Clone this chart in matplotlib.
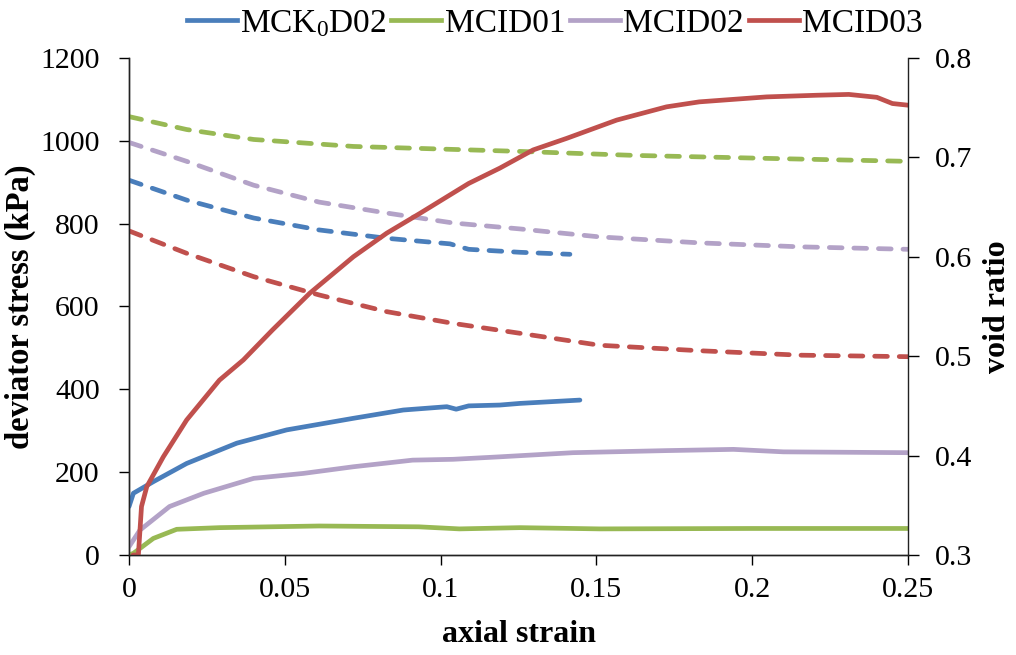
import matplotlib
matplotlib.use("Agg")
import matplotlib.pyplot as plt
from matplotlib.lines import Line2D

plt.rcParams['font.family'] = ['Liberation Serif', 'DejaVu Serif']
plt.rcParams['mathtext.fontset'] = 'custom'
plt.rcParams['mathtext.rm'] = 'Liberation Serif'
plt.rcParams['mathtext.it'] = 'Liberation Serif'

# ---------------- data ----------------
series_names = ["MCK$_0$D02", "MCID01", "MCID02", "MCID03"]
colors = ["#4A7EBB", "#98B954", "#B3A2C7", "#C0504D"]

# deviator stress (kPa) vs axial strain
k0_x = [0, 0.0014, 0.0078, 0.0185, 0.0346, 0.0506, 0.072, 0.088, 0.102, 0.105, 0.109, 0.119, 0.1255, 0.1447]
k0_q = [117, 149, 177, 221, 270, 302, 330, 350, 358, 352, 360, 362, 366, 374]

id01_x = [0.0, 0.0014, 0.0078, 0.0153, 0.029, 0.061, 0.093, 0.106, 0.1255, 0.151, 0.2, 0.25]
id01_q = [0, 4, 40, 62, 66, 70, 68, 63, 66, 63, 64, 64]

id02_x = [0, 0.0035, 0.013, 0.024, 0.04, 0.056, 0.072, 0.091, 0.104, 0.119, 0.1425, 0.1725, 0.194, 0.21, 0.25]
id02_q = [20, 60, 117, 149, 185, 197, 213, 229, 231, 237, 247, 252, 255, 249, 247]

id03_x = [0.0013, 0.003, 0.004, 0.0057, 0.011, 0.0185, 0.029, 0.0367, 0.046, 0.058, 0.072, 0.0827,
          0.0934, 0.109, 0.119, 0.1297, 0.1405, 0.1565, 0.1725, 0.183, 0.2046, 0.2207, 0.231,
          0.24, 0.245, 0.25]
id03_q = [0, 0, 117, 165, 237, 326, 422, 471, 543, 632, 720, 777,
          825, 897, 934, 978, 1006, 1050, 1082, 1094, 1106, 1110, 1112,
          1105, 1090, 1086]

# void ratio vs axial strain
k0_ex = [0, 0.0185, 0.04, 0.061, 0.0827, 0.103, 0.109, 0.1255, 0.1415]
k0_e = [0.677, 0.657, 0.639, 0.627, 0.6186, 0.613, 0.6075, 0.6045, 0.6025]

id01_ex = [0, 0.0185, 0.04, 0.072, 0.104, 0.1255, 0.162, 0.2046, 0.25]
id01_e = [0.741, 0.728, 0.718, 0.711, 0.708, 0.706, 0.702, 0.699, 0.696]

id02_ex = [0, 0.0185, 0.04, 0.061, 0.0827, 0.104, 0.1255, 0.151, 0.183, 0.2154, 0.25]
id02_e = [0.715, 0.696, 0.672, 0.655, 0.644, 0.634, 0.628, 0.620, 0.614, 0.610, 0.6075]

id03_ex = [0, 0.0185, 0.04, 0.061, 0.0827, 0.104, 0.1255, 0.151, 0.183, 0.2154, 0.25]
id03_e = [0.626, 0.6035, 0.580, 0.5616, 0.5448, 0.533, 0.523, 0.511, 0.5055, 0.501, 0.4995]

x_ticks = [0, 0.05, 0.1, 0.15, 0.2, 0.25]
x_tick_labels = ["0", "0.05", "0.1", "0.15", "0.2", "0.25"]
q_ticks = [0, 200, 400, 600, 800, 1000, 1200]
e_ticks = [0.3, 0.4, 0.5, 0.6, 0.7, 0.8]

# ---------------- plot ----------------
fig = plt.figure(figsize=(10.16, 6.55), dpi=100)
ax = fig.add_axes([0.127, 0.1527, 0.7667, 0.7588])
ax2 = ax.twinx()

lw = 3.4
solid = [(k0_x, k0_q), (id01_x, id01_q), (id02_x, id02_q), (id03_x, id03_q)]
dashed = [(k0_ex, k0_e), (id01_ex, id01_e), (id02_ex, id02_e), (id03_ex, id03_e)]

for (xs, ys), c in zip(dashed, colors):
    ax2.plot(xs, ys, color=c, lw=lw, dashes=(2.7, 2.5), dash_capstyle='round')
for (xs, ys), c in zip(solid, colors):
    ax2.plot(xs, [0.3 + v / 1200 * 0.5 for v in ys], color=c, lw=lw,
             solid_capstyle='round', solid_joinstyle='round')

ax.set_xlim(0, 0.25)
ax.set_ylim(0, 1200)
ax2.set_ylim(0.3, 0.8)
ax.set_xticks(x_ticks)
ax.set_xticklabels(x_tick_labels)
ax.set_yticks(q_ticks)
ax2.set_yticks(e_ticks)
ax2.set_yticklabels([f"{v:g}" for v in e_ticks])

for a in (ax, ax2):
    a.spines['top'].set_visible(False)
    for s in a.spines.values():
        s.set_linewidth(1.0)
        s.set_color('#222222')
ax.spines['right'].set_visible(False)

ax.tick_params(axis='x', direction='out', length=7, width=1.0, pad=9, labelsize=21.5, colors='black')
ax.tick_params(axis='y', direction='out', length=7, width=1.0, pad=14, labelsize=21.5)
ax2.tick_params(axis='y', direction='out', length=8, width=1.0, pad=11, labelsize=21.5)

ax.set_xlabel("axial strain", fontsize=23, fontweight='bold', labelpad=12)
ax.set_ylabel("deviator stress (kPa)", fontsize=23.5, fontweight='bold', labelpad=3)
ax2.set_ylabel("void ratio", fontsize=23, fontweight='bold', labelpad=8)

handles = [Line2D([], [], color=c, lw=lw) for c in colors]
fig.legend(handles, series_names, loc='upper center', bbox_to_anchor=(0.546, 1.008), ncol=4,
           frameon=False, fontsize=24, handlelength=1.5, handletextpad=0.1,
           columnspacing=0.15, borderaxespad=0.0)

fig.savefig("out.png", dpi=100)
